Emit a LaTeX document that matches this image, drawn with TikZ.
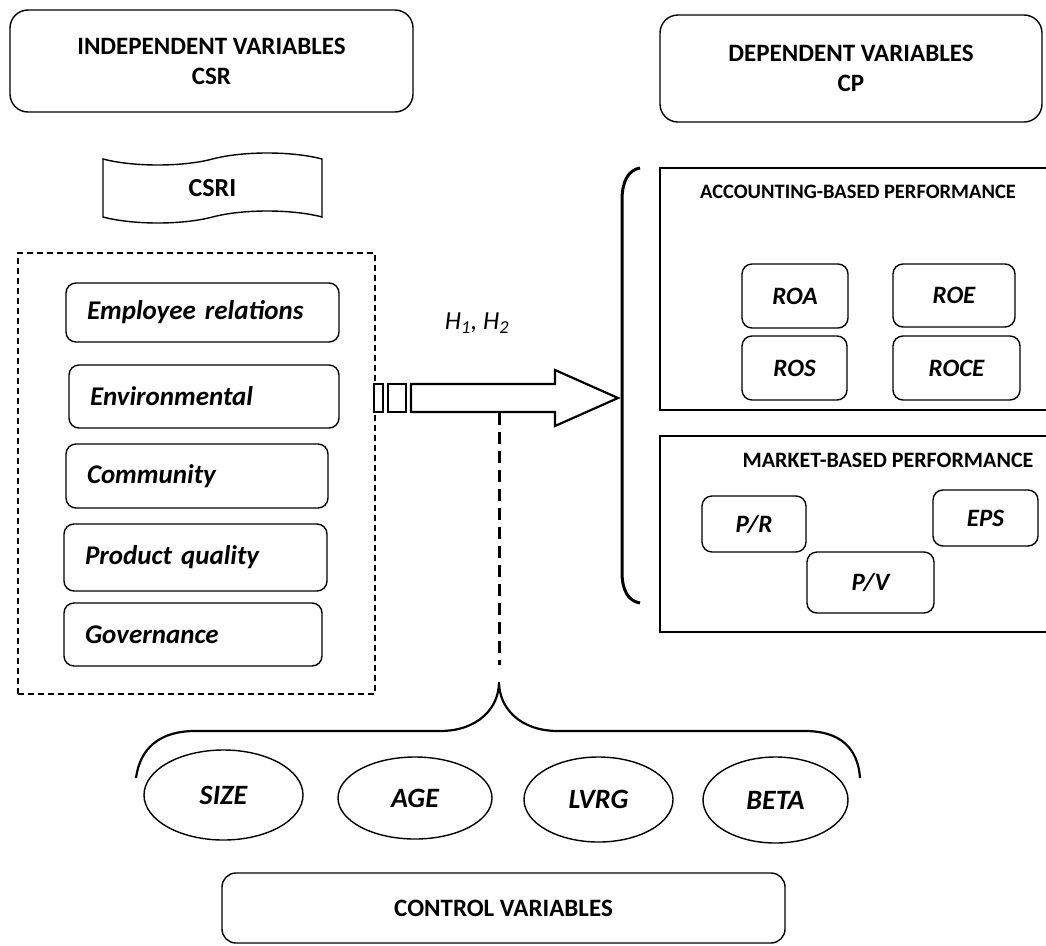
\documentclass[tikz,border=0pt]{standalone}
\usepackage{fontspec}
\setmainfont{Carlito}
\usetikzlibrary{shapes.symbols,shapes.geometric}

\begin{document}
\begin{tikzpicture}[x=1pt, y=-1pt, line width=1.4pt,
    headbox/.style={draw, rounded corners=18pt, align=center, font=\bfseries\fontsize{25}{30}\selectfont},
    itembox/.style={draw, rounded corners=10pt, align=left, inner xsep=21pt, inner ysep=0pt, font=\bfseries\itshape\fontsize{27}{30}\selectfont},
    ratiobox/.style={draw, rounded corners=10pt, inner sep=0pt, font=\bfseries\itshape\fontsize{25}{30}\selectfont},
    groupbox/.style={draw, line width=1.8pt, inner sep=0pt},
    grouptitle/.style={font=\bfseries\fontsize{20.5}{24}\selectfont},
    ctrlvar/.style={draw, ellipse, inner sep=0pt, font=\bfseries\itshape\fontsize{28}{32}\selectfont}]
    \useasboundingbox (0,0) rectangle (1046,945) ;

    \node [headbox, minimum width=403pt, minimum height=102pt] (indep) at (211.5,61) {INDEPENDENT VARIABLES\\CSR} ;
    \node [headbox, minimum width=382pt, minimum height=107pt] (dep) at (851,68.5) {DEPENDENT VARIABLES\\CP} ;

    \node [draw, tape, tape bend height=12pt, inner sep=0pt, minimum width=219pt, minimum height=70pt, font=\bfseries\fontsize{26}{30}\selectfont] (csri) at (212.5,188) {CSRI} ;

    \node [draw, dash pattern=on 6pt off 4pt, inner sep=0pt, minimum width=357pt, minimum height=441pt] (csrgroup) at (196.5,473.5) {} ;
    \node [itembox, text width=231pt, minimum height=59pt] (employee) at (202.5,312.5) {Employee relations} ;
    \node [itembox, text width=228pt, minimum height=63pt] (environ) at (204,396.5) {Environmental} ;
    \node [itembox, text width=220pt, minimum height=64pt] (community) at (197,476) {Community} ;
    \node [itembox, text width=221pt, minimum height=67pt] (product) at (195.5,557.5) {Product quality} ;
    \node [itembox, text width=216pt, minimum height=63pt] (governance) at (193,634.5) {Governance} ;

    \draw [line width=2.2pt, fill=white] (374,384) rectangle ++(9,28) ;
    \draw [line width=2.2pt, fill=white] (388,384) rectangle ++(18,28) ;
    \draw [line width=2.2pt, fill=white] (411,384) -- (555,384) -- (555,370) -- (618,398) -- (555,426) -- (555,412) -- (411,412) -- cycle ;
    \node [font=\itshape\fontsize{26}{28}\selectfont] (hyp) at (477,323) {H\textsubscript{1}, H\textsubscript{2}} ;

    \coordinate (armbase) at (499,413) ;
    \coordinate (ctrltip) at (499,682) ;
    \draw [line width=3pt, dash pattern=on 12pt off 7pt] (armbase) -- ++(0,252) ;

    \draw [line width=3pt] (640,168) .. controls (628,170) and (622,182) .. (622,200) -- (622,572) .. controls (622,590) and (628,601) .. (640,603) ;

    \node [groupbox, minimum width=390pt, minimum height=242pt] (acc) at (855,289) {} ;
    \node [grouptitle] (acctitle) at (858,192) {ACCOUNTING-BASED PERFORMANCE} ;
    \node [ratiobox, minimum width=106pt, minimum height=64pt] (roa) at (795,296) {ROA} ;
    \node [ratiobox, minimum width=122pt, minimum height=63pt] (roe) at (954,295.5) {ROE} ;
    \node [ratiobox, minimum width=105pt, minimum height=64pt] (ros) at (794.5,368) {ROS} ;
    \node [ratiobox, minimum width=127pt, minimum height=64pt] (roce) at (956.5,368) {ROCE} ;

    \node [groupbox, minimum width=390pt, minimum height=196pt] (mkt) at (855,534) {} ;
    \node [grouptitle, font=\bfseries\fontsize{22}{26}\selectfont] (mkttitle) at (888,460) {MARKET-BASED PERFORMANCE} ;
    \node [ratiobox, minimum width=104pt, minimum height=56pt] (pr) at (754,524) {P/R} ;
    \node [ratiobox, minimum width=105pt, minimum height=56pt] (eps) at (985.5,518) {EPS} ;
    \node [ratiobox, minimum width=127pt, minimum height=61pt] (pv) at (870.5,582.5) {P/V} ;

    \draw [line width=2.2pt] (136,778) .. controls (140,748) and (160,731) .. (195,731) -- (440,731) .. controls (478,731) and (499,708) .. (ctrltip) .. controls (499,708) and (520,731) .. (558,731) -- (805,731) .. controls (840,731) and (858,748) .. (860,778) ;

    \node [ctrlvar, minimum width=159pt, minimum height=90pt] (size) at (223.5,795) {SIZE} ;
    \node [ctrlvar, minimum width=154pt, minimum height=82pt] (age) at (415,798) {AGE} ;
    \node [ctrlvar, minimum width=149pt, minimum height=85pt] (lvrg) at (598.5,799.5) {LVRG} ;
    \node [ctrlvar, minimum width=145pt, minimum height=86pt] (beta) at (775.5,800) {BETA} ;

    \node [headbox, rounded corners=14pt, font=\bfseries\fontsize{25}{28}\selectfont, minimum width=563pt, minimum height=70pt] (ctrl) at (503.5,908) {CONTROL VARIABLES} ;
\end{tikzpicture}
\end{document}
